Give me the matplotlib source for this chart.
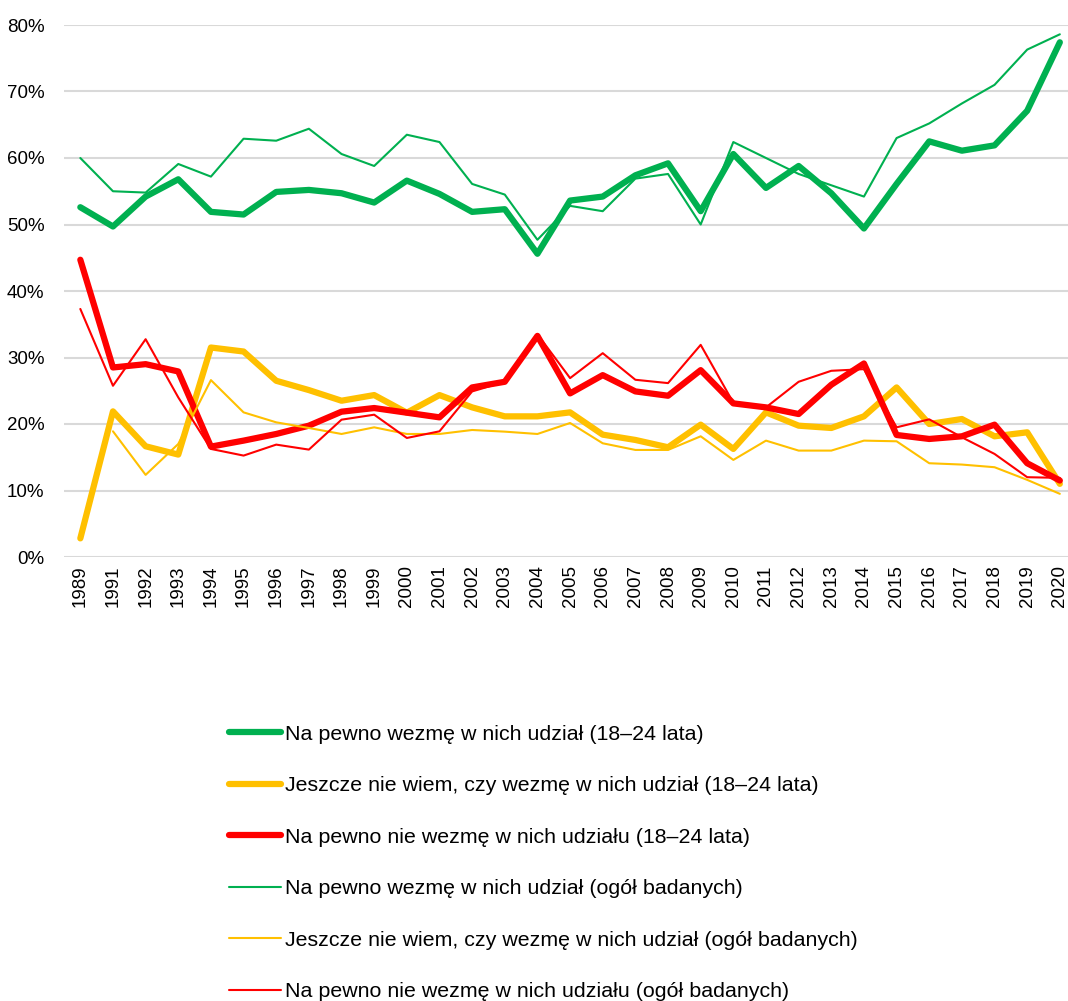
import numpy as np
import matplotlib.pyplot as plt
from matplotlib.ticker import PercentFormatter

plt.switch_backend('Agg')
plt.rcParams['font.family'] = ['Liberation Sans', 'DejaVu Sans']

years = ['1989', '1991', '1992', '1993', '1994', '1995', '1996', '1997', '1998', '1999',
         '2000', '2001', '2002', '2003', '2004', '2005', '2006', '2007', '2008', '2009',
         '2010', '2011', '2012', '2013', '2014', '2015', '2016', '2017', '2018', '2019', '2020']

# 18-24 lata
tak_mlodzi = [52.6, 49.7, 54.2, 56.8, 51.9, 51.5, 54.9, 55.2, 54.7, 53.3,
              56.6, 54.6, 51.9, 52.3, 45.6, 53.6, 54.2, 57.4, 59.2, 52.0,
              60.6, 55.5, 58.8, 54.7, 49.4, 56.1, 62.5, 61.1, 61.9, 67.1, 77.4]
nie_wiem_mlodzi = [2.8, 21.9, 16.65, 15.4, 31.5, 30.9, 26.5, 25.1, 23.5, 24.35,
                   21.7, 24.35, 22.5, 21.15, 21.15, 21.75, 18.4, 17.6, 16.5, 19.9,
                   16.25, 21.75, 19.75, 19.4, 21.15, 25.5, 20.0, 20.75, 18.15, 18.75, 11.0]
nie_mlodzi = [44.7, 28.5, 29.0, 27.9, 16.6, 17.5, 18.5, 19.75, 21.85, 22.4,
              21.7, 21.0, 25.5, 26.35, 33.25, 24.6, 27.35, 24.9, 24.25, 28.1,
              23.1, 22.5, 21.5, 25.9, 29.1, 18.35, 17.75, 18.15, 19.9, 14.1, 11.5]

# ogół badanych
tak_ogol = [60.0, 55.0, 54.8, 59.1, 57.2, 62.9, 62.6, 64.4, 60.6, 58.8,
            63.5, 62.4, 56.1, 54.5, 47.7, 52.8, 52.0, 56.9, 57.6, 50.0,
            62.4, 60.0, 57.6, 55.9, 54.2, 63.0, 65.2, 68.2, 71.0, 76.3, 78.6]
nie_wiem_ogol = [np.nan, 18.9, 12.35, 17.0, 26.6, 21.75, 20.25, 19.4, 18.5, 19.5,
                 18.5, 18.5, 19.1, 18.85, 18.5, 20.15, 17.1, 16.1, 16.1, 18.15,
                 14.6, 17.5, 16.0, 16.0, 17.5, 17.4, 14.1, 13.9, 13.5, 11.6, 9.5]
nie_ogol = [37.3, 25.75, 32.75, 24.0, 16.25, 15.25, 16.9, 16.15, 20.65, 21.4,
            17.9, 18.9, 24.9, 26.35, 33.5, 26.9, 30.65, 26.65, 26.15, 31.9,
            23.2, 22.5, 26.35, 28.0, 28.25, 19.5, 20.7, 18.0, 15.5, 12.0, 11.9]

labels = [
    'Na pewno wezmę w nich udział (18–24 lata)',
    'Jeszcze nie wiem, czy wezmę w nich udział (18–24 lata)',
    'Na pewno nie wezmę w nich udziału (18–24 lata)',
    'Na pewno wezmę w nich udział (ogół badanych)',
    'Jeszcze nie wiem, czy wezmę w nich udział (ogół badanych)',
    'Na pewno nie wezmę w nich udziału (ogół badanych)',
]
series = [tak_mlodzi, nie_wiem_mlodzi, nie_mlodzi, tak_ogol, nie_wiem_ogol, nie_ogol]
colors = ['#00B050', '#FFC000', '#FF0000'] * 2
widths = [4.5, 4.5, 4.5, 1.5, 1.5, 1.5]

fig = plt.figure(figsize=(10.68, 10.01), dpi=100)
ax = fig.add_axes([64 / 1068, 1 - 557 / 1001, 1 - 64 / 1068, (557 - 25) / 1001])

x = np.arange(len(years))
for vals, c, lw, lab in zip(series, colors, widths, labels):
    ax.plot(x, np.array(vals) / 100, color=c, lw=lw, label=lab,
            solid_capstyle='round', solid_joinstyle='round', clip_on=False)

ax.set_xlim(-0.5, 30.25)
ax.set_ylim(0, 0.8)
ax.set_yticks(np.arange(0, 0.81, 0.1))
ax.yaxis.set_major_formatter(PercentFormatter(1.0, decimals=0))
ax.set_xticks(x)
ax.set_xticklabels(years, rotation=90)
ax.grid(axis='y', color='#d9d9d9', lw=1.5)
ax.set_axisbelow(True)
for s in ax.spines.values():
    s.set_visible(False)
ax.tick_params(length=0, labelsize=13.5, colors='#000000')
ax.tick_params(axis='y', pad=14)
ax.tick_params(axis='x', pad=6)

fig.legend(loc='upper left', bbox_to_anchor=(220 / 1068, 1 - 716 / 1001), frameon=False,
           fontsize=15.4, handlelength=2.43, handletextpad=0.19, labelspacing=1.52,
           borderaxespad=0)

fig.savefig('out.png', dpi=100)
